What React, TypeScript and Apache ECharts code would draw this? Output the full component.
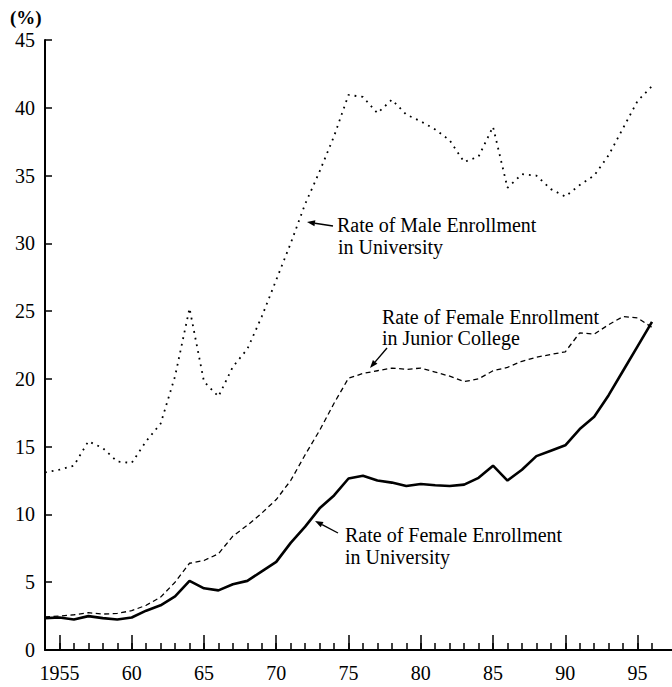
import React, { useEffect, useRef } from "react";
import * as echarts from "echarts";

const years = [
  1954, 1955, 1956, 1957, 1958, 1959, 1960, 1961, 1962, 1963, 1964, 1965, 1966, 1967, 1968,
  1969, 1970, 1971, 1972, 1973, 1974, 1975, 1976, 1977, 1978, 1979, 1980, 1981, 1982, 1983,
  1984, 1985, 1986, 1987, 1988, 1989, 1990, 1991, 1992, 1993, 1994, 1995, 1996,
];

const maleUniversity = [
  13.1, 13.3, 13.6, 15.4, 14.9, 13.9, 13.8, 15.4, 16.7, 20.2, 25.2, 19.8, 18.7, 20.9, 22.2,
  24.6, 27.3, 30.0, 32.9, 35.3, 37.9, 40.95, 40.8, 39.6, 40.6, 39.5, 39.0, 38.4, 37.6, 36.0,
  36.4, 38.6, 34.1, 35.1, 35.0, 34.0, 33.45, 34.3, 35.0, 36.5, 38.5, 40.5, 41.6,
];

const femaleJuniorCollege = [
  2.45, 2.5, 2.6, 2.75, 2.65, 2.7, 2.9, 3.3, 3.9, 5.0, 6.4, 6.6, 7.1, 8.4, 9.2,
  10.1, 11.1, 12.5, 14.4, 16.2, 18.2, 20.05, 20.4, 20.6, 20.8, 20.7, 20.8, 20.5, 20.2, 19.8,
  20.0, 20.6, 20.85, 21.3, 21.6, 21.8, 22.0, 23.4, 23.3, 24.0, 24.6, 24.5, 23.8,
];

const femaleUniversity = [
  2.35, 2.4, 2.25, 2.5, 2.35, 2.25, 2.4, 2.9, 3.3, 3.95, 5.1, 4.55, 4.4, 4.85, 5.1,
  5.8, 6.5, 7.9, 9.1, 10.45, 11.4, 12.65, 12.85, 12.5, 12.35, 12.1, 12.25, 12.15, 12.1, 12.2,
  12.7, 13.6, 12.5, 13.3, 14.3, 14.7, 15.1, 16.3, 17.2, 18.8, 20.6, 22.4, 24.2,
];

const labelMale = ["Rate of Male Enrollment", "in University"];
const labelJunior = ["Rate of Female Enrollment", "in Junior College"];
const labelFemale = ["Rate of Female Enrollment", "in University"];

const FONT = "Liberation Serif";
const INK = "#000";

export default function App() {
  const ref = useRef<HTMLDivElement>(null);

  useEffect(() => {
    if (!ref.current) return;
    const chart = echarts.init(ref.current, undefined, { renderer: "svg" });

    const W = 672;
    const left = 45;
    const top = 40;
    const bottom = 37;
    const axisEnd = 652; // 1996
    const yearPx = (axisEnd - left) / (1996 - 1954);

    const pairs = (vals: number[]) => years.map((y, i) => [y, vals[i]]);

    const textEl = (x: number, y: number, text: string) => ({
      type: "text",
      x,
      y,
      style: {
        text,
        fontFamily: FONT,
        fontSize: 20,
        fill: INK,
        textVerticalAlign: "middle",
        verticalAlign: "middle",
      },
    });

    const arrow = (x1: number, y1: number, x2: number, y2: number) => {
      const dx = x2 - x1;
      const dy = y2 - y1;
      const len = Math.sqrt(dx * dx + dy * dy);
      const ux = dx / len;
      const uy = dy / len;
      const hl = 8;
      const hw = 3;
      const bx = x2 - ux * hl;
      const by = y2 - uy * hl;
      return [
        {
          type: "line",
          shape: { x1, y1, x2: bx, y2: by },
          style: { stroke: INK, lineWidth: 1.4 },
        },
        {
          type: "polygon",
          shape: {
            points: [
              [x2, y2],
              [bx - uy * hw, by + ux * hw],
              [bx + uy * hw, by - ux * hw],
            ],
          },
          style: { fill: INK },
        },
      ];
    };

    const option: any = {
      animation: false,
      backgroundColor: "#fff",
      textStyle: { fontFamily: FONT },
      grid: [
        { left, top, right: W - axisEnd, bottom },
        { left: left + yearPx, top, right: W - (axisEnd - yearPx), bottom },
        { left, top, right: 0, bottom },
      ],
      xAxis: [
        {
          type: "value",
          gridIndex: 0,
          min: 1954,
          max: 1996,
          interval: 1,
          axisLine: { show: false },
          axisTick: { show: true, inside: true, length: 7, lineStyle: { color: INK, width: 1.5 } },
          axisLabel: { show: false },
          splitLine: { show: false },
        },
        {
          type: "value",
          gridIndex: 1,
          min: 1955,
          max: 1995,
          interval: 5,
          axisLine: { show: false, onZero: false },
          axisTick: { show: true, inside: true, length: 15, lineStyle: { color: INK, width: 1.5 } },
          axisLabel: {
            show: true,
            margin: 13,
            fontFamily: FONT,
            fontSize: 20,
            color: INK,
            formatter: (v: number) => (v === 1955 ? "1955" : v % 5 === 0 ? String(v % 100) : ""),
          },
          splitLine: { show: false },
        },
        {
          type: "value",
          gridIndex: 2,
          min: 0,
          max: 1,
          axisLine: { show: true, onZero: false, lineStyle: { color: INK, width: 2 } },
          axisTick: { show: false },
          axisLabel: { show: false },
          splitLine: { show: false },
        },
      ],
      yAxis: [
        {
          type: "value",
          gridIndex: 0,
          min: 0,
          max: 45,
          interval: 5,
          axisLine: { show: true, lineStyle: { color: INK, width: 2 } },
          axisTick: { show: true, inside: true, length: 7, lineStyle: { color: INK, width: 1.5 } },
          axisLabel: { margin: 10, fontFamily: FONT, fontSize: 20, color: INK },
          splitLine: { show: false },
        },
        { type: "value", gridIndex: 1, min: 0, max: 1, show: false },
        { type: "value", gridIndex: 2, min: 0, max: 1, show: false },
      ],
      series: [
        {
          name: labelMale.join(" "),
          type: "line",
          xAxisIndex: 0,
          yAxisIndex: 0,
          data: pairs(maleUniversity),
          symbol: "none",
          lineStyle: { color: INK, width: 1.8, type: [1.8, 5], cap: "butt" },
        },
        {
          name: labelJunior.join(" "),
          type: "line",
          xAxisIndex: 0,
          yAxisIndex: 0,
          data: pairs(femaleJuniorCollege),
          symbol: "none",
          lineStyle: { color: INK, width: 1.3, type: [5, 3.5] },
        },
        {
          name: labelFemale.join(" "),
          type: "line",
          xAxisIndex: 0,
          yAxisIndex: 0,
          data: pairs(femaleUniversity),
          symbol: "none",
          lineStyle: { color: INK, width: 2.6, type: "solid" },
        },
      ],
      graphic: [
        {
          type: "text",
          x: 10,
          y: 17,
          style: {
            text: "(%)",
            fontFamily: FONT,
            fontSize: 19,
            fontWeight: "bold",
            fill: INK,
            verticalAlign: "middle",
            textVerticalAlign: "middle",
          },
        },
        textEl(337, 225, labelMale[0]),
        textEl(338, 247, labelMale[1]),
        textEl(382, 317, labelJunior[0]),
        textEl(382, 338, labelJunior[1]),
        textEl(345, 535, labelFemale[0]),
        textEl(345, 557, labelFemale[1]),
        ...arrow(333, 226, 307, 222),
        ...arrow(387, 348, 370, 368),
        ...arrow(338, 533, 315, 521),
      ],
    };

    chart.setOption(option);
    return () => chart.dispose();
  }, []);

  return (
    <div
      ref={ref}
      style={{ position: "fixed", left: 0, top: 0, width: 672, height: 687, background: "#fff" }}
    />
  );
}
